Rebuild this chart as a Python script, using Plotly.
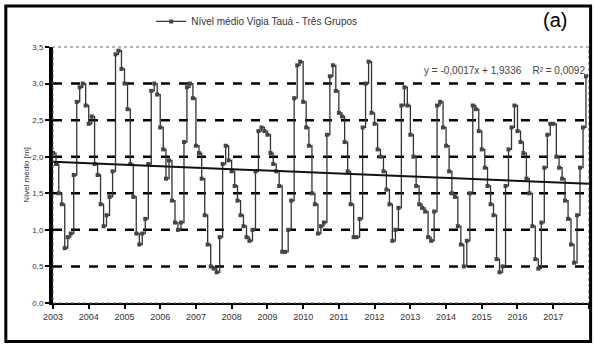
import plotly.graph_objects as go
import pandas as pd

# Monthly mean water level (m), Jan..Dec
lvl_2003 = [2.05, 1.90, 1.50, 1.35, 0.75, 0.90, 0.95, 1.75, 2.75, 2.95, 3.00, 2.70]
lvl_2004 = [2.45, 2.55, 1.90, 1.75, 1.35, 1.05, 1.20, 1.45, 1.80, 3.40, 3.45, 3.20]
lvl_2005 = [3.00, 2.65, 1.90, 1.45, 0.95, 0.80, 0.95, 1.15, 1.90, 2.90, 3.00, 2.85]
lvl_2006 = [2.40, 2.10, 1.70, 1.95, 1.40, 1.10, 1.00, 1.10, 2.20, 2.95, 3.00, 2.80]
lvl_2007 = [2.15, 2.05, 1.70, 1.20, 0.80, 0.50, 0.47, 0.42, 0.90, 1.90, 2.15, 1.95]
lvl_2008 = [1.80, 1.60, 1.40, 1.20, 1.05, 0.90, 0.85, 1.00, 1.80, 2.35, 2.40, 2.35]
lvl_2009 = [2.30, 2.05, 1.90, 1.80, 1.60, 0.70, 0.70, 1.00, 1.40, 2.80, 3.25, 3.30]
lvl_2010 = [2.75, 2.40, 2.15, 1.50, 1.35, 0.95, 1.05, 1.10, 2.30, 3.10, 3.25, 2.90]
lvl_2011 = [2.60, 2.55, 2.20, 1.80, 1.35, 0.90, 0.90, 1.15, 2.40, 3.00, 3.30, 2.60]
lvl_2012 = [2.45, 2.10, 2.00, 1.80, 1.55, 1.35, 0.85, 1.00, 1.30, 2.70, 2.95, 2.70]
lvl_2013 = [2.30, 2.00, 1.60, 1.35, 1.30, 1.25, 0.90, 0.85, 1.25, 2.70, 2.75, 2.40]
lvl_2014 = [2.15, 1.80, 1.50, 1.45, 1.05, 0.80, 0.50, 0.85, 1.50, 2.70, 2.65, 2.35]
lvl_2015 = [2.10, 1.85, 1.60, 1.35, 1.20, 0.60, 0.42, 0.50, 1.60, 2.10, 2.40, 2.70]
lvl_2016 = [2.35, 2.20, 2.05, 1.70, 1.50, 1.05, 0.60, 0.47, 1.10, 1.85, 2.30, 2.45]
lvl_2017 = [2.45, 2.00, 1.85, 1.70, 1.40, 1.15, 0.80, 0.55, 1.20, 1.85, 2.40, 3.10]

years = list(range(2003, 2018))
yearly = [lvl_2003, lvl_2004, lvl_2005, lvl_2006, lvl_2007, lvl_2008, lvl_2009,
          lvl_2010, lvl_2011, lvl_2012, lvl_2013, lvl_2014, lvl_2015, lvl_2016, lvl_2017]

# Linear trend, end values
trend_dates = ["2003-01-01", "2018-01-01"]
trend_vals = [1.93, 1.63]

y_ticks = [0.0, 0.5, 1.0, 1.5, 2.0, 2.5, 3.0, 3.5]
y_ticktext = ["0,0", "0,5", "1,0", "1,5", "2,0", "2,5", "3,0", "3,5"]
x_tick_years = years + [2018]
x_ticktext = [str(y) for y in years] + [""]

series_name = "Nível médio Vigia Tauá - Três Grupos"
trend_label = "y = -0,0017x + 1,9336    R² = 0,0092"

levels = [v for yr in yearly for v in yr]
dates = pd.date_range(f"{years[0]}-01-01", periods=len(levels), freq="MS")

fig = go.Figure()
fig.add_trace(go.Scatter(
    x=dates, y=levels, mode="lines+markers", name=series_name,
    line=dict(color="#333333", width=1.3, shape="hv"),
    marker=dict(size=4, color="#444444", symbol="square"),
))
fig.add_trace(go.Scatter(
    x=trend_dates, y=trend_vals, mode="lines", showlegend=False,
    line=dict(color="#111111", width=2),
))

# dashed horizontal reference lines at the inner tick levels
for yv in y_ticks[1:-1]:
    fig.add_shape(type="line", xref="paper", x0=0, x1=1, yref="y", y0=yv, y1=yv,
                  line=dict(color="black", width=2.5, dash="dash"), layer="below")

# thin dotted chart border (top / right)
fig.add_shape(type="rect", xref="paper", yref="paper", x0=0, x1=1, y0=0, y1=1,
              line=dict(color="#666666", width=1, dash="dot"))
# thick outer frame
fig.add_shape(type="rect", xref="paper", yref="paper", x0=-0.088, x1=1.003, y0=-0.15, y1=1.16,
              line=dict(color="black", width=3))

fig.add_annotation(xref="paper", yref="paper", x=0.962, y=1.105, text="(a)", showarrow=False,
                   xanchor="right", yanchor="middle",
                   font=dict(family="Liberation Sans, Arial", size=20, color="black"))
fig.add_annotation(xref="paper", yref="paper", x=0.997, y=0.91, text=trend_label, showarrow=False,
                   xanchor="right", yanchor="middle",
                   font=dict(family="Liberation Sans, Arial", size=10, color="#444444"))

fig.update_layout(
    width=594, height=347,
    margin=dict(l=53, r=5, t=47, b=44),
    paper_bgcolor="white", plot_bgcolor="white",
    font=dict(family="Liberation Sans, Arial", size=9, color="#333333"),
    showlegend=True,
    legend=dict(x=0.38, y=1.1, xanchor="center", yanchor="middle", orientation="h",
                font=dict(size=10, color="#333333"), bgcolor="rgba(0,0,0,0)",
                itemwidth=30),
)
fig.update_xaxes(
    type="date", range=["2003-01-01", "2018-01-01"], automargin=False,
    tickvals=[f"{y}-01-01" for y in x_tick_years], ticktext=x_ticktext,
    ticks="outside", ticklen=4, tickwidth=2, tickcolor="black",
    showline=True, linecolor="black", linewidth=2, showgrid=False, zeroline=False,
    tickfont=dict(size=9),
)
fig.update_yaxes(
    range=[0, 3.5], tickvals=y_ticks, ticktext=y_ticktext, automargin=False,
    ticks="outside", ticklen=4, tickwidth=2, tickcolor="black",
    showline=True, linecolor="black", linewidth=4, showgrid=False, zeroline=False,
    title=dict(text="Nível médio [m]", font=dict(size=8), standoff=2),
    tickfont=dict(size=8),
)

fig.write_html(
    "out.html",
    config={"displayModeBar": False},
    post_script="document.body.style.margin='0';document.body.style.overflow='hidden';",
)
